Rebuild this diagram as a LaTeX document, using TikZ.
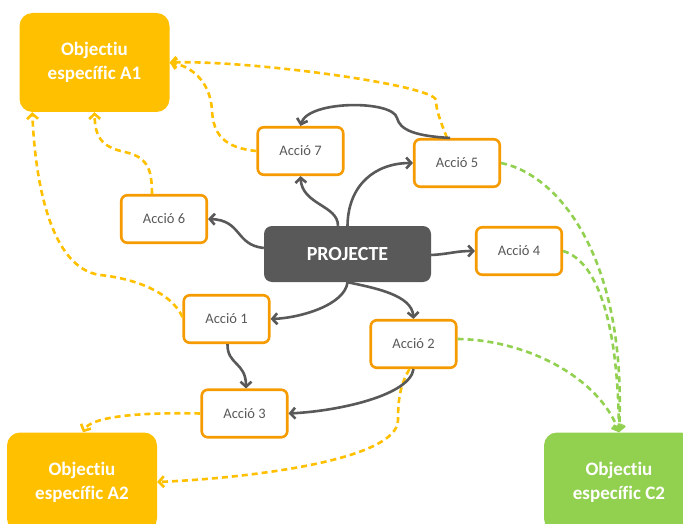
\documentclass[tikz,border=0pt]{standalone}
\usepackage{fontspec}
\setmainfont{Carlito}[Ligatures={NoCommon,NoContextual},Contextuals=NoAlternate]
\usetikzlibrary{arrows.meta,calc}
\definecolor{ora}{RGB}{245,155,0}
\definecolor{yel}{RGB}{255,192,0}
\definecolor{grn}{RGB}{146,208,80}
\definecolor{dgr}{RGB}{89,89,89}
\begin{document}
\begin{tikzpicture}[x=1pt,y=-1pt,
  act/.style={draw=ora, line width=2.6pt, rounded corners=6pt, fill=white, minimum width=85.5pt, minimum height=47.5pt, inner sep=0pt, text=dgr, font=\fontsize{14.5}{17}\selectfont},
  obj/.style={rounded corners=13pt, minimum width=150pt, minimum height=99pt, inner sep=0pt, align=center, text=white, font=\bfseries\fontsize{19}{24}\selectfont},
  tip/.style={-{Straight Barb[length=5pt,width=11pt]}},
  gline/.style={draw=dgr, line width=2.6pt, tip},
  yline/.style={draw=yel, line width=2.6pt, dash pattern=on 6pt off 4pt, tip},
  nline/.style={draw=grn, line width=2.6pt, dash pattern=on 6pt off 4pt, tip}
]
\useasboundingbox (0,0) rectangle (683,524);

% objectives
\node[obj, fill=yel] (A1) at (94.5,62.5) {Objectiu\\específic A1};
\node[obj, fill=yel] (A2) at (82,482) {Objectiu\\específic A2};
\node[obj, fill=grn] (C2) at (619,482) {Objectiu\\específic C2};

% project
\node[fill=dgr, rounded corners=8pt, minimum width=167pt, minimum height=56pt, inner sep=0pt, text=white, font=\bfseries\fontsize{20}{24}\selectfont] (P) at (347.5,254) {PROJECTE};

% actions
\node[act] (a7) at (300.5,151) {Acció 7};
\node[act] (a6) at (164,219) {Acció 6};
\node[act] (a5) at (457,163) {Acció 5};
\node[act] (a4) at (519,251) {Acció 4};
\node[act] (a1) at (226.5,319) {Acció 1};
\node[act] (a2) at (413.5,344) {Acció 2};
\node[act] (a3) at (244.5,413.5) {Acció 3};

% yellow dashed connectors
\draw[yline] ([xshift=-10pt]a5.north) .. controls (440,120) and (436,110) .. (436,100)
   .. controls (433,85) and (250,60) .. (A1.east);
\draw[yline] (a7.west) .. controls (225,148) and (213,135) .. (212,110)
   .. controls (210,80) and (190,66) .. (A1.east);
\draw[yline] ([xshift=-12pt]a6.north) .. controls (152,165) and (145,157) .. (125,152)
   .. controls (100,147) and (95,135) .. (A1.south);
\draw[yline] ([yshift=2pt]a1.west) .. controls (170,290) and (130,278) .. (100,275)
   .. controls (50,268) and (35,180) .. ($(A1.south west)+(13,0)$);
\draw[yline] (a3.west) .. controls (130,412) and (90,418) .. ($(A2.north)+(1,0)$);
\draw[yline] ([xshift=-4pt]a2.south) .. controls (400,385) and (398,400) .. (398,420)
   .. controls (398,460) and (250,478) .. (A2.east);

% green dashed connectors
\draw[nline] (a5.east) .. controls (560,175) and (627,260) .. (C2.north);
\draw[nline] (a4.east) .. controls (600,262) and (618,330) .. (C2.north);
\draw[nline] ([yshift=5pt]a2.east) .. controls (530,340) and (600,380) .. (C2.north);

% gray connectors
\draw[gline] ([yshift=6pt]P.west) .. controls (235,245) and (242,220) .. (a6.east);
\draw[gline] ([xshift=-9.5pt]P.north) .. controls (338,205) and (302,205) .. (a7.south);
\draw[gline] (P.north) .. controls (348,185) and (375,163) .. (a5.west);
\draw[gline] ([xshift=-7pt]a5.north) .. controls (415,136) and (400,130) .. (397,118)
   .. controls (393,100) and (308,100) .. (a7.north);
\draw[gline] ([yshift=-1pt]P.east) .. controls (450,254) and (455,251) .. (a4.west);
\draw[gline] (P.south) .. controls (345,305) and (300,318) .. (a1.east);
\draw[gline] (P.south) .. controls (375,288) and (412,295) .. (a2.north);
\draw[gline] ([xshift=1pt]a1.south) .. controls (227,365) and (246,362) .. ([xshift=1.5pt]a3.north);
\draw[gline] (a2.south) .. controls (410,395) and (340,411) .. (a3.east);
\end{tikzpicture}
\end{document}
